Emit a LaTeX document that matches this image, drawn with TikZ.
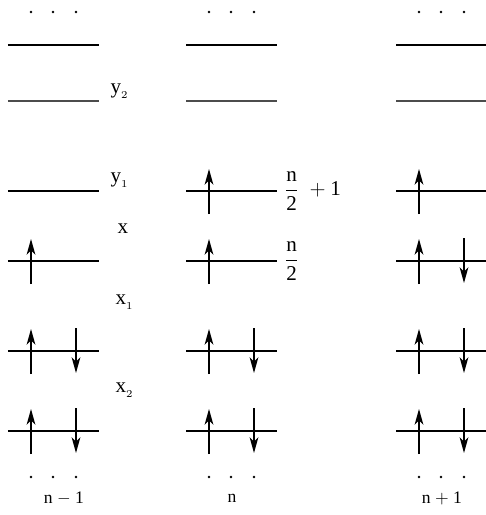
\documentclass[tikz,border=0pt]{standalone}
\usepackage{fontspec}
\setmainfont{Liberation Serif}
\usepackage{tikz}
\usetikzlibrary{arrows.meta,positioning}
\tikzset{
  level/.style={
    line width=0.75pt,
    draw=black
  },
  level thin/.style={
    line width=0.6pt,
    draw=black!70
  },
  level thick/.style={
    line width=1.1pt,
    draw=black
  },
  spinup/.style={
    line width=0.75pt,
    -{Stealth[length=9pt,width=5pt,inset=2.5pt]}
  },
  spindown/.style={
    line width=0.75pt,
    -{Stealth[length=9pt,width=5pt,inset=2.5pt]}
  },
  lvlabel/.style={
    font=\large,
    inner sep=1pt
  },
  dots/.style={
    circle,
    fill=black,
    inner sep=0pt,
    minimum size=1.6pt
  },
  collabel/.style={
    inner sep=1pt
  }
}

\begin{document}
\begin{tikzpicture}[x=0.02cm,y=-0.02cm]
  \useasboundingbox (0,0) rectangle (486,515);
  %\draw[help lines, step=20] (0,0) grid (486,515);

  % level lines of the three columns
  \foreach \c in {8,186,396} {
    \draw[level thick] (\c,45) -- ++(91,0);
    \draw[level thin] (\c,101) -- ++(91,0);
    \draw[level] (\c,191) -- ++(91,0);
    \draw[level] (\c,261) -- ++(91,0);
    \draw[level] (\c,351) -- ++(91,0);
    \draw[level] (\c,431) -- ++(91,0);
    % dots above and below
    \node[dots] at (\c+23,12) {};
    \node[dots] at (\c+45,12) {};
    \node[dots] at (\c+68,12) {};
    \node[dots] at (\c+23,477) {};
    \node[dots] at (\c+45,477) {};
    \node[dots] at (\c+68,477) {};
  }

  % filled pairs on x1 and x2 in every column
  \foreach \c in {8,186,396} {
    \foreach \y in {351,431} {
      \draw[spinup] (\c+23,\y+23) -- (\c+23,\y-22);
      \draw[spindown] (\c+68,\y-23) -- (\c+68,\y+22);
    }
  }

  % column n-1
  \draw[spinup] (31,284) -- (31,239);

  % column n
  \draw[spinup] (209,214) -- (209,169);
  \draw[spinup] (209,284) -- (209,239);

  % column n+1
  \draw[spinup] (419,214) -- (419,169);
  \draw[spinup] (419,284) -- (419,239);
  \draw[spindown] (464,238) -- (464,283);

  % level names
  \node[lvlabel] (y2) at (120,91) {y$_{_2}$};
  \node[lvlabel] (y1) at (120,180) {y$_{_1}$};
  \node[lvlabel] (x) at (123,229) {x};
  \node[lvlabel] (x1) at (125,302) {x$_{_1}$};
  \node[lvlabel] (x2) at (125,390) {x$_{_2}$};

  % fillings of column n
  \node[anchor=west, inner sep=0pt, font=\large] (half1) at (284,191)
    {$\displaystyle\frac{\mbox{n}}{\mbox{2}}\;+\mbox{1}$};
  \node[anchor=west, inner sep=0pt, font=\large] (half) at (284,261)
    {$\displaystyle\frac{\mbox{n}}{\mbox{2}}$};

  % column names
  \node[collabel] (nm1) at (64,498) {n $-$ 1};
  \node[collabel] (n) at (232,498) {n};
  \node[collabel] (np1) at (442,498) {n $+$ 1};

\end{tikzpicture}
\end{document}
